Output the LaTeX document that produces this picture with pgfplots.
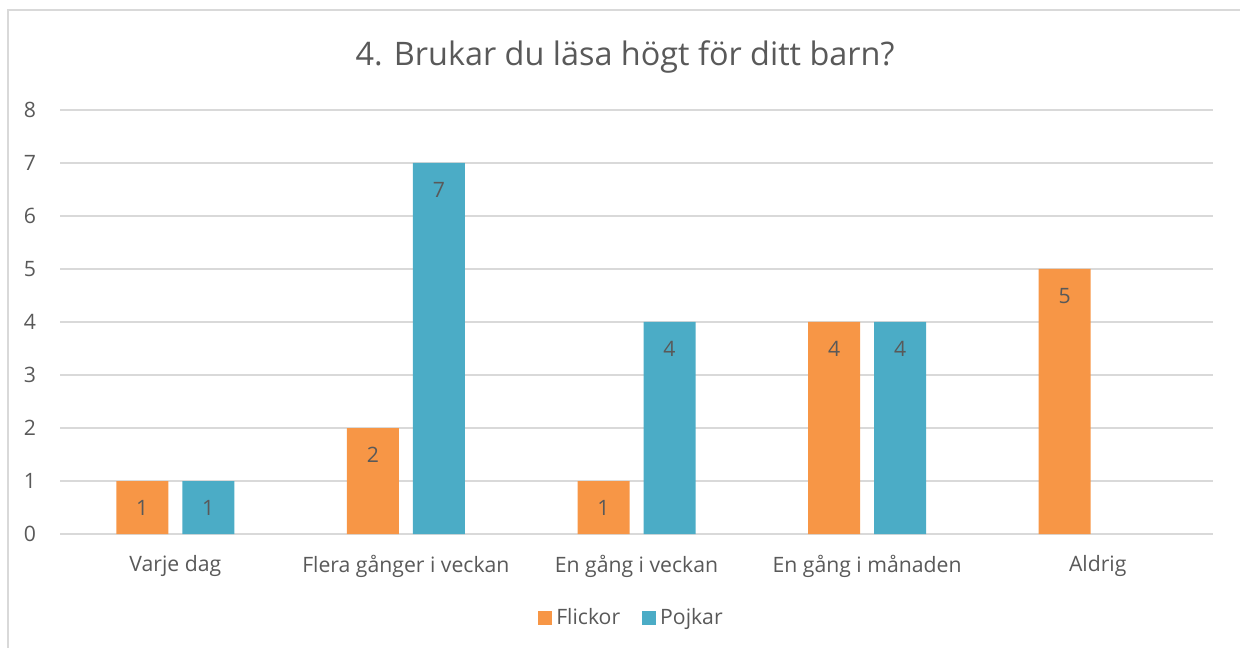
\documentclass[border=0pt]{standalone}
\usepackage{pgfplots}
\pgfplotsset{compat=1.18}
\usepackage{fontspec}
\setmainfont{Open Sans}
\definecolor{flick}{HTML}{F79646}
\definecolor{pojk}{HTML}{4BACC6}
\definecolor{txt}{HTML}{595959}
\definecolor{gridc}{HTML}{D9D9D9}
\begin{document}
\begin{tikzpicture}
\path[use as bounding box] (0,0) rectangle (620pt,323.5pt);
\draw[gridc, line width=0.8pt] (4pt,-1pt) -- (4pt,318.5pt) -- (621pt,318.5pt);
\node[txt, font=\fontsize{16.2}{19}\selectfont] at (312.5pt,295pt) {4. Brukar du läsa högt för ditt barn?};
\begin{axis}[
  at={(30pt,56.5pt)}, anchor=south west,
  scale only axis, width=576.5pt, height=212pt,
  ymin=0, ymax=8, ytick={0,...,8},
  xmin=-0.5, xmax=4.5,
  xtick={0,1,2,3,4},
  xticklabels={Varje dag, Flera gånger i veckan, En gång i veckan, En gång i månaden, Aldrig},
  axis line style={draw=none},
  major tick length=0pt,
  xmajorgrids=false,
  ymajorgrids=true, grid style={gridc, line width=0.8pt},
  /pgf/number format/assume math mode=true,
  tick label style={txt, font=\fontsize{10.6}{12}\selectfont},
  yticklabel style={xshift=-8.5pt},
  xticklabel style={yshift=-7pt},
  ybar=7pt, bar width=26pt,
  nodes near coords,
  nodes near coords style={txt, font=\fontsize{10.6}{12}\selectfont, anchor=center, yshift=-13.5pt},
  legend columns=2,
  legend style={at={(0.4965,-0.198)}, anchor=center, draw=none, fill=none,
    font=\fontsize{10.6}{12}\selectfont, text=txt,
    /tikz/every even column/.append style={column sep=9pt}},
  legend image code/.code={\fill[#1] (0pt,-3.5pt) rectangle (7pt,3.5pt);},
]
\addplot[fill=flick, draw=none] coordinates {(0,1) (1,2) (2,1) (3,4) (4,5)};
\addplot[fill=pojk, draw=none] coordinates {(0,1) (1,7) (2,4) (3,4)};
\legend{Flickor, Pojkar}
\end{axis}
\end{tikzpicture}
\end{document}
